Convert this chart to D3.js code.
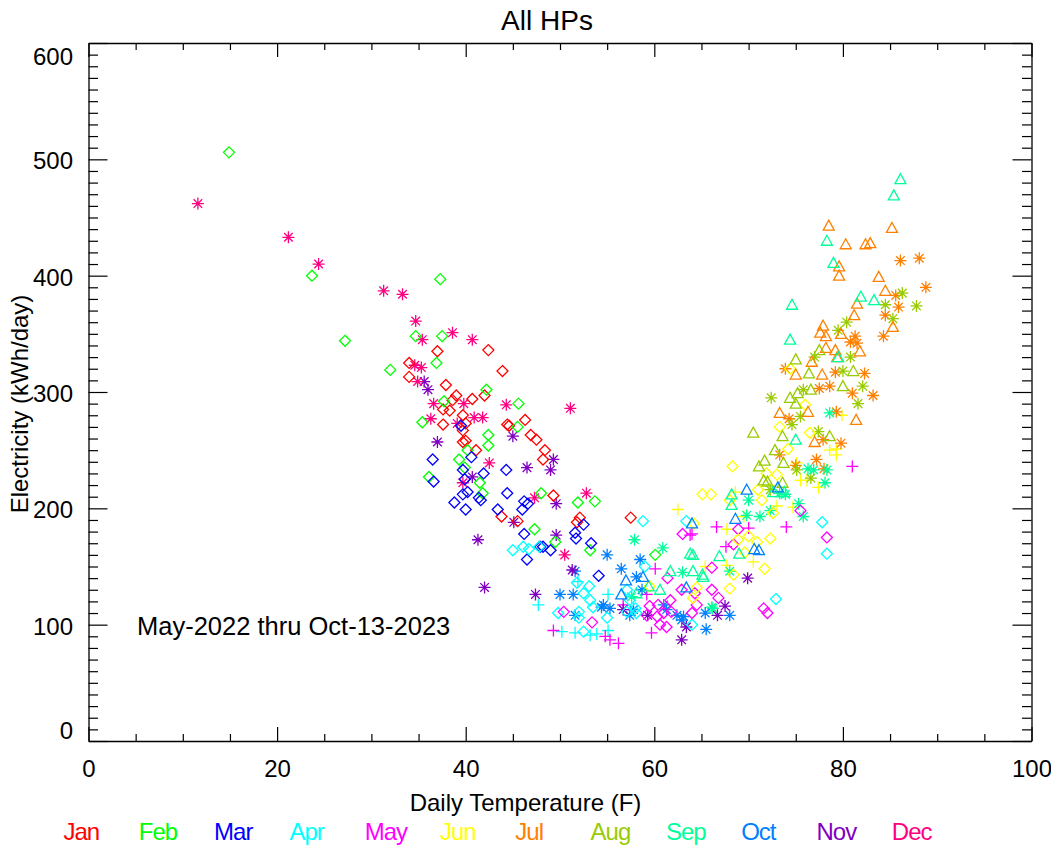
<!DOCTYPE html>
<html>
<head>
<meta charset="utf-8">
<script src="https://cdn.jsdelivr.net/npm/d3@7"></script>
<style>
  body { margin: 0; background: #fff; }
  svg text { font-family: "Liberation Sans", Arial, sans-serif; fill: #000; }
</style>
</head>
<body>
<svg width="1051" height="848"></svg>
<script>
// month labels shown under the chart
const monthNames = ["Jan","Feb","Mar","Apr","May","Jun","Jul","Aug","Sep","Oct","Nov","Dec"];

// [temp F, kWh/day], grouped by month + symbol
// plus = spring 2022, asterisk = Jul-Dec 2022, diamond = Jan-Jun 2023, triangle = Jul-Oct 2023
const aprPlus = [[47.7,117],[50.2,94],[51.6,93],[53.2,91],[53.9,92],[55.1,126],[55.1,95],[51.9,137]];
const mayPlus = [[49.3,95],[54.8,90],[56.2,84],[55.3,87],[59.7,93],[60.1,148],[63.8,177],[66.6,184],[67.6,167],
  [70,183],[74,184],[59.2,126],[56.7,117],[81,236],[64,178]];
const junPlus = [[68.6,214],[62.5,199],[67.7,182],[70.5,154],[65.4,150],[67.7,151],[69.5,193],[73,202],[74.7,201],
  [75.5,224],[76.2,224],[77.4,218],[79.3,246],[79.3,251],[78.6,250],[79.9,280],[75.1,239]];
const julAst = [[86.1,413],[88.1,415],[88.8,390],[85.6,383],[85.9,373],[84.5,366],[84.3,348],[81.3,348],[81.5,342],
  [80.8,343],[82.3,316],[79.2,317],[73.9,320],[77.5,303],[78.6,305],[81,299],[83.2,297],[74.3,277],[77.2,242],
  [77.9,259],[79.8,256],[78,234],[73.3,246],[79.3,283],[75,237]];
const augAst = [[86.3,385],[87.8,374],[84.5,375],[85.3,363],[80.4,360],[79.5,353],[77,330],[80.8,330],[80,318],
  [82.1,305],[75.8,302],[72.4,295],[75.5,279],[74.6,272],[77.4,266],[81.6,290],[72.3,216],[75.1,233],[76.6,226]];
const sepAst = [[78.6,282],[76.3,234],[76.9,233],[78.1,222],[78.3,233],[73.9,212],[70,207],[75.3,204],[75.8,193],
  [69.8,194],[71.2,193],[68,146],[66.2,114],[73.3,213],[57.9,173],[60.9,166],[63,145],[66.1,115],[57.6,124],[72.3,198]];
const octAst = [[55,160],[58.5,156],[56.5,148],[58.1,141],[51.6,146],[50,126],[51.4,126],[54.4,115],[55.3,114],
  [51.6,108],[57.4,108],[58.7,130],[61.3,113],[63.1,107],[62.4,108],[65.5,96],[65.4,110],[68,108],[57.8,113],
  [62.9,104],[61,117],[54.6,117]];
const novAst = [[35.6,309],[36,302],[37,257],[45,262],[46.5,235],[49.3,242],[49,233],[49.6,204],[45.1,188],[41.3,173],
  [49.6,177],[42,132],[47.4,126],[51.3,147],[40.7,227],[69.9,140],[62.9,87],[66.7,108],[67.5,116],[59.3,108],
  [63.4,98],[56.7,113]];
const decAst = [[11.6,462],[21.2,433],[24.4,410],[31.3,387],[33.3,384],[34.7,361],[35.4,345],[38.6,351],[40.7,345],
  [35.3,321],[34.6,323],[34.9,309],[36.6,290],[36.3,277],[39.8,290],[40.9,278],[41.8,278],[44.3,289],[51.1,286],
  [42.5,239],[39.1,273],[47.3,209],[52.8,213],[50.5,160],[39.7,222]];
const janDia = [[37,335],[34,325],[34,313],[37.9,306],[39,297],[38.3,284],[39.7,280],[37.6,272],[38.6,293],[42.4,336],
  [43.9,318],[40.7,294],[42,297],[37.6,285],[40,273],[39.7,267],[39.7,257],[41.1,250],[44.4,272],[44.6,271],
  [46.3,276],[46.9,263],[47.5,259],[48.4,250],[48.2,242],[49.3,211],[45.5,189],[43.8,193],[52.1,192],[51.8,188],
  [40,258],[57.5,192]];
const febDia = [[14.9,506],[23.7,400],[27.2,344],[37.3,397],[34.7,348],[37.5,348],[36.9,325],[32,319],[37.7,292],
  [35.4,274],[42.2,302],[45.6,290],[45.5,270],[42.4,263],[42.4,254],[40.2,250],[39.3,242],[39.9,235],[36.1,227],
  [41.5,222],[41.8,213],[48,213],[51.9,205],[53.7,206],[47.3,182],[49.5,171],[53.2,164],[60.1,160]];
const marDia = [[39.5,271],[36.5,242],[40.6,244],[39.7,233],[41.9,230],[39.9,225],[36.6,223],[44.3,233],[40.2,214],
  [39.7,212],[41.4,209],[41.6,207],[44.4,213],[38.8,205],[40,199],[43.4,199],[46.2,206],[46.6,204],[46,199],
  [46.2,178],[49,164],[46.5,156],[47.9,167],[51.7,174],[52.5,186],[51.6,179],[53.3,170],[54.1,142],[48.2,167]];
const aprDia = [[45,164],[46.1,167],[46.7,165],[47.8,167],[51.8,136],[58.8,189],[63.4,189],[59,150],[49.8,110],
  [52,106],[53.1,133],[53.2,121],[52.5,127],[52,111],[52.5,94],[53.5,115],[55,106],[57.1,130],[57.4,121],[58,114],
  [58.1,110],[57.1,111],[64,100],[72.9,122],[77.8,188],[78.3,161]];
const mayDia = [[63,178],[66.1,149],[68.4,169],[68.9,182],[61.4,140],[62.9,130],[61.7,121],[59.5,116],[60.4,117],
  [61,110],[60.3,107],[61.8,111],[60.6,100],[61.3,98],[59.2,108],[64.5,117],[64,110],[64.3,127],[66.1,130],
  [66.8,123],[50.4,111],[53.4,102],[71.6,114],[72,110],[75.5,198],[78.3,175]];
const junDia = [[65.1,212],[66,212],[64.2,187],[71,216],[68,207],[72.3,174],[68.9,173],[70,176],[70.9,171],[69.6,162],
  [64.5,132],[64.1,123],[68,131],[68.4,143],[59.5,133],[72.6,196],[68.3,236],[73.3,270],[74.2,251],[71.9,230],
  [73,229],[76,289],[76.5,265],[71.4,207],[71.7,148],[74.4,320]];
const julTri = [[78.5,443],[85.2,441],[80.3,427],[82.4,427],[82.9,428],[79.6,408],[79.6,400],[83.8,399],[84.5,387],
  [81.5,376],[81.2,366],[85.3,356],[77.9,357],[77.6,351],[78.2,348],[79.8,350],[81.8,335],[79.2,336],[76.7,326],
  [77.8,315],[75,315],[78.2,338],[79.4,330],[73.3,282],[76.3,283],[77,257],[81.4,276]];
const augTri = [[75,328],[76.4,316],[81.1,318],[76.6,302],[80,305],[74.4,295],[75.2,299],[77.5,336],[78.6,262],
  [73.6,262],[70.5,265],[75,290],[72.8,250],[71.7,241],[71.1,236],[73.7,239],[71.6,224],[73.6,222],[72,223]];
const sepTri = [[86.1,483],[85.4,469],[78.3,430],[79,411],[81.9,382],[83.3,379],[74.6,375],[74.4,345],[79.5,330],
  [75,259],[68.2,203],[66.9,159],[69,161],[64.1,160],[65.1,143],[64.1,146],[73.8,214],[63.8,161],[61.7,146],
  [65.2,141],[59.4,133],[60.6,130],[58.1,127],[68.2,212],[72.6,214]];
const octTri = [[69.8,216],[68.6,191],[71.1,164],[64,187],[57,138],[56.5,126],[63.4,132],[58.8,141],[73.1,218],[70.6,165]];

// colours per month (style, not data)
const monthColors = ["#ff0000","#00ff00","#0000ff","#00ffff","#ff00ff","#ffff00",
                     "#ff8000","#99cc00","#00ff99","#0080ff","#8000c0","#ff0080"];

// drawing order = time order
const groups = [
  {m: 3, sym: "plus", pts: aprPlus}, {m: 4, sym: "plus", pts: mayPlus}, {m: 5, sym: "plus", pts: junPlus},
  {m: 6, sym: "ast", pts: julAst}, {m: 7, sym: "ast", pts: augAst}, {m: 8, sym: "ast", pts: sepAst},
  {m: 9, sym: "ast", pts: octAst}, {m: 10, sym: "ast", pts: novAst}, {m: 11, sym: "ast", pts: decAst},
  {m: 0, sym: "dia", pts: janDia}, {m: 1, sym: "dia", pts: febDia}, {m: 2, sym: "dia", pts: marDia},
  {m: 3, sym: "dia", pts: aprDia}, {m: 4, sym: "dia", pts: mayDia}, {m: 5, sym: "dia", pts: junDia},
  {m: 6, sym: "tri", pts: julTri}, {m: 7, sym: "tri", pts: augTri}, {m: 8, sym: "tri", pts: sepTri},
  {m: 9, sym: "tri", pts: octTri}
];

const plotLeft = 88.5, plotRight = 1031.5, plotTop = 43, plotBottom = 741;

const x = d3.scaleLinear().domain([0, 100]).range([plotLeft, plotRight]);
const y = d3.scaleLinear().domain([0, 600]).range([plotBottom, plotTop]);

const svg = d3.select("svg");

// symbol paths, centred on 0,0
const symPath = {
  plus: "M-6,0H6M0,-6V6",
  ast: "M-6,0H6M0,-6V6M-4.3,-4.3L4.3,4.3M-4.3,4.3L4.3,-4.3",
  dia: "M0,-5.5L5.5,0L0,5.5L-5.5,0Z",
  tri: "M0,-5.5L5.5,4.5L-5.5,4.5Z"
};

const marks = svg.append("g");
groups.forEach(g => {
  marks.selectAll(null)
    .data(g.pts)
    .enter().append("path")
    .attr("transform", d => `translate(${x(d[0])},${y(d[1])})`)
    .attr("d", symPath[g.sym])
    .attr("fill", "none")
    .attr("stroke", monthColors[g.m])
    .attr("stroke-width", 1.3);
});

// axes, IDL style: ticks inward on all four sides
const fs = 24;
function styleAxis(sel) {
  sel.selectAll("path.domain").attr("stroke", "#000").attr("stroke-width", 1.3);
  sel.selectAll(".tick line").attr("stroke", "#000").attr("stroke-width", 1.2);
  sel.selectAll("text").attr("font-size", fs).attr("font-family", "Liberation Sans, Arial, sans-serif");
}

const xMajor = [0, 20, 40, 60, 80, 100];
const xMinor = d3.range(0, 101, 5).filter(v => v % 20 !== 0);
const yMajor = [0, 100, 200, 300, 400, 500, 600];
const yMinor = d3.range(0, 601, 10).filter(v => v % 100 !== 0);

svg.append("g").attr("transform", `translate(0,${plotBottom})`)
  .call(d3.axisBottom(x).tickValues(xMajor).tickSize(-14).tickSizeOuter(0).tickPadding(19).tickFormat(d3.format("d")))
  .call(styleAxis);
svg.append("g").attr("transform", `translate(0,${plotBottom})`)
  .call(d3.axisBottom(x).tickValues(xMinor).tickSize(-7).tickFormat(""))
  .call(g => g.select(".domain").remove()).call(styleAxis);

svg.append("g").attr("transform", `translate(0,${plotTop})`)
  .call(d3.axisTop(x).tickValues(xMajor).tickSize(-14).tickSizeOuter(0).tickFormat(""))
  .call(styleAxis);
svg.append("g").attr("transform", `translate(0,${plotTop})`)
  .call(d3.axisTop(x).tickValues(xMinor).tickSize(-7).tickFormat(""))
  .call(g => g.select(".domain").remove()).call(styleAxis);

const gy = svg.append("g").attr("transform", `translate(${plotLeft},0)`)
  .call(d3.axisLeft(y).tickValues(yMajor).tickSize(-19).tickSizeOuter(0).tickPadding(15.5).tickFormat(d3.format("d")))
  .call(styleAxis);
svg.append("g").attr("transform", `translate(${plotLeft},0)`)
  .call(d3.axisLeft(y).tickValues(yMinor).tickSize(-9.5).tickFormat(""))
  .call(g => g.select(".domain").remove()).call(styleAxis);

svg.append("g").attr("transform", `translate(${plotRight},0)`)
  .call(d3.axisRight(y).tickValues(yMajor).tickSize(-19).tickSizeOuter(0).tickFormat(""))
  .call(styleAxis);
svg.append("g").attr("transform", `translate(${plotRight},0)`)
  .call(d3.axisRight(y).tickValues(yMinor).tickSize(-9.5).tickFormat(""))
  .call(g => g.select(".domain").remove()).call(styleAxis);

// y labels: end labels pulled inside the axis range
gy.selectAll(".tick text")
  .attr("dy", d => d === 600 ? "0.9em" : d === 0 ? "-0.1em" : "0.4em");

// titles
svg.append("text").attr("x", 547).attr("y", 30).attr("text-anchor", "middle")
  .attr("font-size", 28).text("All HPs");
svg.append("text").attr("x", 525.5).attr("y", 811).attr("text-anchor", "middle")
  .attr("font-size", fs).text("Daily Temperature (F)");
svg.append("text").attr("transform", "translate(28,404) rotate(-90)").attr("text-anchor", "middle")
  .attr("font-size", fs).text("Electricity (kWh/day)");
svg.append("text").attr("x", 137).attr("y", 635).attr("font-size", 25.5)
  .text("May-2022 thru Oct-13-2023");

// month colour key
svg.append("g").selectAll("text")
  .data(monthNames)
  .enter().append("text")
  .attr("x", (d, i) => 63.5 + i * 75.3)
  .attr("y", 840)
  .attr("font-size", fs)
  .attr("letter-spacing", -1)
  .style("fill", (d, i) => monthColors[i])
  .text(d => d);
</script>
</body>
</html>
